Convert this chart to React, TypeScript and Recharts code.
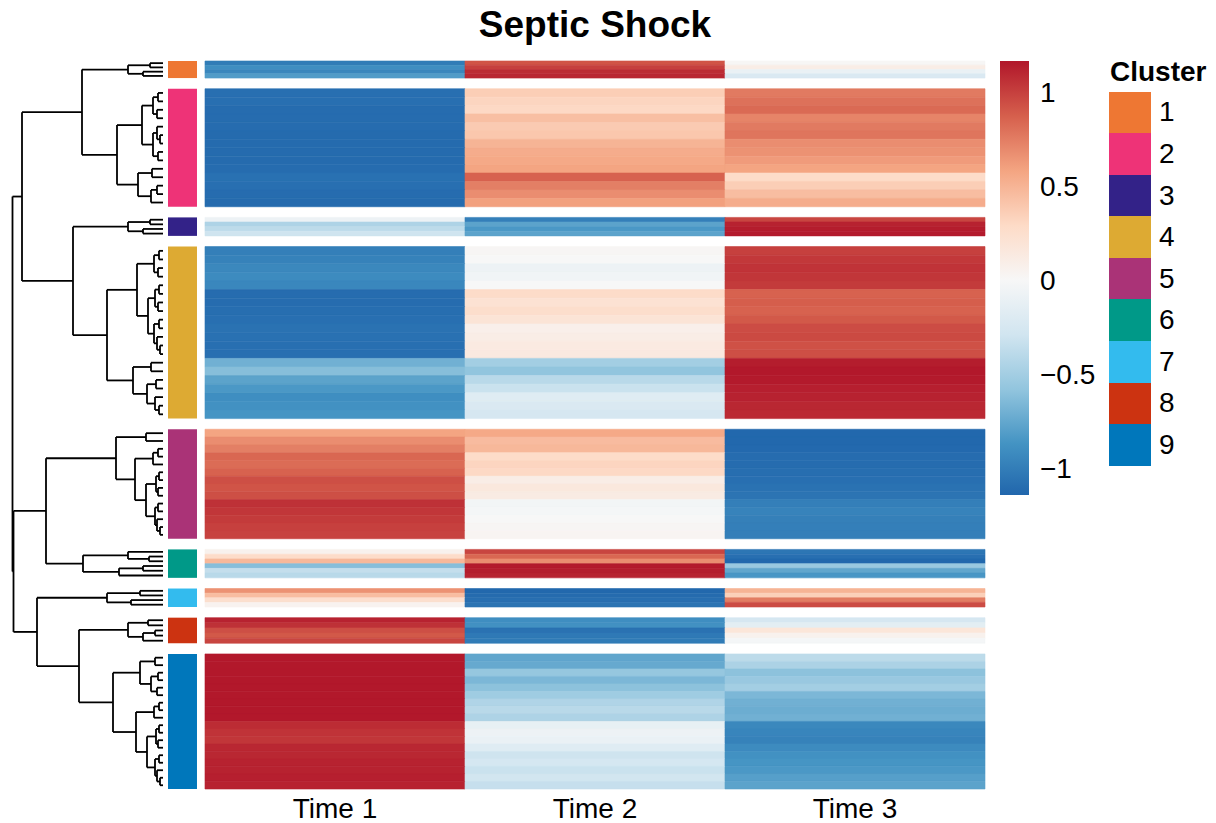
import { ComposedChart, XAxis, YAxis, Scatter, ReferenceArea, ReferenceLine } from 'recharts';

const FONT = "'Liberation Sans', Arial, Helvetica, sans-serif";

const TIMES = ['Time 1', 'Time 2', 'Time 3'];
const CLUSTER_NAMES = ['1', '2', '3', '4', '5', '6', '7', '8', '9'];
const CLUSTER_COLORS = ['#EE7733', '#EE3377', '#332288', '#DDAA33', '#AA3377', '#009988', '#33BBEE', '#CC3311', '#0077BB'];
// genes per cluster (row height of each block)
const CLUSTER_SIZES = [12, 83, 13, 121, 77, 20, 13, 18, 95];
const GAP = 7.5;

// scaled expression per band of genes: [Time 1, Time 2, Time 3]
const C1 = [[-1.02, 0.92, 0.01], [-0.9, 1.0, 0.1], [-0.95, 1.08, -0.1], [-0.82, 1.1, -0.22]];
const C2 = [
  [-1.1, 0.36, 0.76], [-1.1, 0.32, 0.8], [-1.12, 0.3, 0.83], [-1.12, 0.44, 0.72], [-1.12, 0.38, 0.76],
  [-1.13, 0.4, 0.78], [-1.13, 0.5, 0.68], [-1.13, 0.54, 0.66], [-1.13, 0.56, 0.62], [-1.12, 0.58, 0.58],
  [-1.09, 0.86, 0.28], [-1.1, 0.74, 0.36], [-1.12, 0.68, 0.45], [-1.13, 0.6, 0.54],
];
const C3 = [[-0.08, -1.0, 0.98], [-0.45, -0.78, 1.12], [-0.38, -0.84, 1.14], [-0.3, -0.78, 1.15]];
const C4 = [
  [-1.0, 0.02, 1.0], [-0.98, 0.0, 1.03], [-0.94, -0.08, 1.05], [-0.92, -0.05, 1.04], [-0.95, 0.0, 1.02],
  [-1.12, 0.28, 0.86], [-1.12, 0.22, 0.88], [-1.11, 0.26, 0.86], [-1.1, 0.2, 0.9], [-1.08, 0.08, 0.95],
  [-1.09, 0.1, 0.96], [-1.1, 0.13, 0.93], [-1.1, 0.14, 0.94], [-0.7, -0.5, 1.14], [-0.62, -0.58, 1.16],
  [-0.78, -0.4, 1.15], [-0.84, -0.32, 1.13], [-0.9, -0.18, 1.12], [-0.88, -0.22, 1.1], [-0.86, -0.25, 1.09],
];
const C5 = [
  [0.58, 0.56, -1.15], [0.68, 0.46, -1.15], [0.74, 0.48, -1.14], [0.84, 0.28, -1.12], [0.82, 0.32, -1.12],
  [0.86, 0.3, -1.11], [0.94, 0.1, -1.1], [0.92, 0.16, -1.08], [0.94, 0.12, -1.07], [1.06, -0.04, -1.0],
  [1.04, -0.02, -0.97], [1.02, 0.0, -0.99], [1.0, 0.02, -1.0], [0.99, 0.03, -1.0],
];
const C6 = [[0.06, 0.98, -1.06], [0.28, 0.84, -1.1], [0.48, 0.68, -1.15], [-0.62, 1.15, -0.55], [-0.35, 1.14, -0.76], [-0.4, 1.12, -0.85]];
const C7 = [[0.66, -1.15, 0.5], [0.45, -1.13, 0.35], [0.25, -1.1, 0.75], [0.05, -1.07, 0.95]];
const C8 = [[1.12, -0.9, -0.25], [1.06, -0.88, -0.15], [0.94, -1.08, 0.18], [0.9, -1.04, 0.06], [0.98, -1.02, -0.02]];
const C9 = [
  [1.16, -0.76, -0.38], [1.16, -0.74, -0.46], [1.16, -0.56, -0.6], [1.16, -0.66, -0.55], [1.16, -0.6, -0.5],
  [1.16, -0.52, -0.66], [1.16, -0.44, -0.7], [1.16, -0.4, -0.72], [1.16, -0.45, -0.7], [1.08, -0.12, -0.94],
  [1.05, -0.08, -0.96], [1.04, -0.1, -0.98], [1.1, -0.18, -0.92], [1.1, -0.3, -0.88], [1.12, -0.26, -0.86],
  [1.12, -0.32, -0.84], [1.13, -0.28, -0.8], [1.12, -0.34, -0.78],
];
const BANDS = [C1, C2, C3, C4, C5, C6, C7, C8, C9];

// dendrograms: leaf = band index, node = [height, left, right]
type Tree = number | [number, Tree, Tree];
const TREE_1: Tree = [35, [13, 0, 1], [20, 2, 3]];
const TREE_2: Tree = [46, [21, [10, [5, 0, 1], [6, 2, 3]], [10, [6, 4, [3, 5, 6]], [5, 7, 8]]], [25, [11, 9, 10], [12, [6, 11, 12], 13]]];
const TREE_3: Tree = [35, [13, 0, 1], [20, 2, 3]];
const TREE_4: Tree = [56, [26, [9, [4, 0, 1], [5, 2, 3]], [15, [8, [4, 4, 5], [5, 6, 7]], [9, [4, 8, 9], [6, 10, [3, 11, 12]]]]], [30, [12, 13, 14], [16, [7, 15, 16], [8, 17, [4, 18, 19]]]]];
const TREE_5: Tree = [47, [17, 0, 1], [28, [10, [5, 2, 3], 4], [17, [7, [4, 5, 6], [5, 7, 8]], [8, [5, 9, 10], [6, 11, [3, 12, 13]]]]]];
const TREE_6: Tree = [80, [35, 0, [14, 1, 2]], [44, [20, 3, 4], 5]];
const TREE_7: Tree = [56, [23, 0, 1], [32, 2, 3]];
const TREE_8: Tree = [35, [15, 0, 1], [20, [8, 2, 3], 4]];
const TREE_9: Tree = [50, [23, [8, 0, 1], [12, [5, 2, 3], [6, 4, 5]]], [27, [9, [4, 6, 7], 8], [16, [7, [4, 9, 10], [5, 11, 12]], [8, [4, 13, 14], [6, 15, [3, 16, 17]]]]]];
const CLUSTER_TREES = [TREE_1, TREE_2, TREE_3, TREE_4, TREE_5, TREE_6, TREE_7, TREE_8, TREE_9];
// leaf = cluster index
const TOP_TREE: Tree = [150.5, [141, [81, 0, 1], [90, 2, 3]], [149.5, [117, 4, 5], [126, 6, [84, 7, 8]]]];
const DEND_MAX = 151;

// RdBu colour scale
const SCALE_VALUES = [-1.16, -0.87, -0.58, -0.29, 0, 0.29, 0.58, 0.87, 1.16];
const SCALE_COLORS = ['#2166AC', '#4393C3', '#92C5DE', '#D1E5F0', '#F7F7F7', '#FDDBC7', '#F4A582', '#D6604D', '#B2182B'];
const CBAR_TICKS = [-1, -0.5, 0, 0.5, 1];
const CBAR_DOMAIN = [-1.142, 1.165];

const STARTS = CLUSTER_SIZES.map((_, i) => CLUSTER_SIZES.slice(0, i).reduce((s, n) => s + n + GAP, 0));
const TOTAL = STARTS[STARTS.length - 1] + CLUSTER_SIZES[CLUSTER_SIZES.length - 1];

const toRgb = (h: string) => [1, 3, 5].map((i) => parseInt(h.slice(i, i + 2), 16));

const colorOf = (v: number) => {
  const s = SCALE_VALUES;
  if (v <= s[0]) return SCALE_COLORS[0];
  if (v >= s[s.length - 1]) return SCALE_COLORS[s.length - 1];
  let i = 0;
  while (v > s[i + 1]) i++;
  const t = (v - s[i]) / (s[i + 1] - s[i]);
  const a = toRgb(SCALE_COLORS[i]);
  const b = toRgb(SCALE_COLORS[i + 1]);
  return `rgb(${a.map((c, k) => Math.round(c + (b[k] - c) * t)).join(',')})`;
};

const CELLS = BANDS.flatMap((rows, c) => {
  const h = CLUSTER_SIZES[c] / rows.length;
  return rows.flatMap((vals, j) =>
    vals.map((v, k) => ({
      key: `${c}-${j}-${k}`,
      x1: k,
      x2: k + 1,
      y1: STARTS[c] + j * h,
      y2: STARTS[c] + (j + 1) * h,
      fill: colorOf(v),
    }))
  );
});

// dendrogram segments [h1, y1, h2, y2]
const SEGMENTS: number[][] = [];
type Pos = { y: number; h: number };
const layout = (t: Tree, leaf: (i: number) => Pos): Pos => {
  if (typeof t === 'number') return leaf(t);
  const [h, a, b] = t;
  const l = layout(a, leaf);
  const r = layout(b, leaf);
  SEGMENTS.push([l.h, l.y, h, l.y], [r.h, r.y, h, r.y], [h, l.y, h, r.y]);
  return { y: (l.y + r.y) / 2, h };
};
layout(TOP_TREE, (c) =>
  layout(CLUSTER_TREES[c], (j) => ({
    y: STARTS[c] + ((j + 0.5) * CLUSTER_SIZES[c]) / BANDS[c].length,
    h: 0,
  }))
);

const fmtTick = (v: number) => (v < 0 ? `\u2212${Math.abs(v)}` : String(v));

const hiddenDot = () => <g />;

export default () => {
  const gradStops = SCALE_VALUES.map((v, i) => ({
    offset: Math.min(1, Math.max(0, (CBAR_DOMAIN[1] - v) / (CBAR_DOMAIN[1] - CBAR_DOMAIN[0]))),
    color: SCALE_COLORS[i],
  })).reverse();

  return (
    <div style={{ position: 'absolute', left: 0, top: 0, width: 1216, height: 823, background: '#fff', fontFamily: FONT }}>
      {/* titulo */}
      <div style={{ position: 'absolute', left: 0, top: 4, width: 1190, textAlign: 'center', fontSize: 37, lineHeight: '42px', fontWeight: 700, color: '#000' }}>
        Septic Shock
      </div>

      {/* dendrograma */}
      <div style={{ position: 'absolute', left: 0, top: 0 }}>
        <ComposedChart width={170} height={823} margin={{ top: 61, right: 7, bottom: 34, left: 12 }}>
          <XAxis type="number" dataKey="x" domain={[0, DEND_MAX]} reversed allowDataOverflow hide />
          <YAxis type="number" dataKey="y" domain={[0, TOTAL]} reversed allowDataOverflow hide />
          <Scatter data={[{ x: 0, y: 0 }, { x: DEND_MAX, y: TOTAL }]} shape={hiddenDot} isAnimationActive={false} />
          {SEGMENTS.map((s, i) => (
            <ReferenceLine
              key={`seg-${i}`}
              segment={[{ x: s[0], y: s[1] }, { x: s[2], y: s[3] }]}
              stroke="#000"
              strokeWidth={1.8}
              ifOverflow="visible"
            />
          ))}
        </ComposedChart>
      </div>

      {/* heatmap + anotacion */}
      <div style={{ position: 'absolute', left: 0, top: 0 }}>
        <ComposedChart width={1216} height={823} margin={{ top: 61, right: 231, bottom: 0, left: 168 }}>
          <XAxis
            type="number"
            dataKey="x"
            domain={[-0.1423, 3]}
            allowDataOverflow
            ticks={[0.5, 1.5, 2.5]}
            tickFormatter={(v: number) => TIMES[Math.floor(v)]}
            axisLine={false}
            tickLine={false}
            tickMargin={3}
            height={34}
            tick={{ fontSize: 28, fill: '#000', fontFamily: FONT }}
          />
          <YAxis type="number" dataKey="y" domain={[0, TOTAL]} reversed allowDataOverflow hide />
          <Scatter data={[{ x: 0, y: 0 }, { x: 3, y: TOTAL }]} shape={hiddenDot} isAnimationActive={false} />
          {CLUSTER_SIZES.map((n, c) => (
            <ReferenceArea
              key={`ann-${c}`}
              x1={-0.1423}
              x2={-0.0308}
              y1={STARTS[c]}
              y2={STARTS[c] + n}
              fill={CLUSTER_COLORS[c]}
              fillOpacity={1}
              stroke="none"
            />
          ))}
          {CELLS.map((d) => (
            <ReferenceArea
              key={d.key}
              x1={d.x1}
              x2={d.x2}
              y1={d.y1}
              y2={d.y2}
              fill={d.fill}
              fillOpacity={1}
              stroke={d.fill}
              strokeWidth={0.6}
            />
          ))}
        </ComposedChart>
      </div>

      {/* barra de color */}
      <div style={{ position: 'absolute', left: 990, top: 0 }}>
        <ComposedChart width={110} height={823} margin={{ top: 61, right: 1, bottom: 328, left: 10 }}>
          <defs>
            <linearGradient id="cbar" x1="0" y1="0" x2="0" y2="1">
              {gradStops.map((g, i) => (
                <stop key={`gs-${i}`} offset={g.offset} stopColor={g.color} />
              ))}
            </linearGradient>
          </defs>
          <XAxis type="number" dataKey="x" domain={[0, 1]} allowDataOverflow hide />
          <YAxis
            type="number"
            dataKey="y"
            orientation="right"
            domain={CBAR_DOMAIN}
            allowDataOverflow
            ticks={CBAR_TICKS}
            tickFormatter={fmtTick}
            axisLine={false}
            tickLine={false}
            tickMargin={5}
            width={70}
            tick={{ fontSize: 28, fill: '#000', fontFamily: FONT }}
          />
          <Scatter data={[{ x: 0, y: CBAR_DOMAIN[0] }, { x: 1, y: CBAR_DOMAIN[1] }]} shape={hiddenDot} isAnimationActive={false} />
          <ReferenceArea x1={0} x2={1} y1={CBAR_DOMAIN[0]} y2={CBAR_DOMAIN[1]} fill="url(#cbar)" fillOpacity={1} stroke="none" />
        </ComposedChart>
      </div>

      {/* leyenda de clusters */}
      <div style={{ position: 'absolute', left: 1110, top: 56, fontSize: 28, lineHeight: '32px', fontWeight: 700, color: '#000' }}>
        Cluster
      </div>
      <div style={{ position: 'absolute', left: 1109, top: 91.7 }}>
        {CLUSTER_NAMES.map((name, i) => (
          <div key={name} style={{ display: 'flex', alignItems: 'center', height: 41.55 }}>
            <div style={{ width: 42, height: 41.55, background: CLUSTER_COLORS[i] }} />
            <span style={{ marginLeft: 8, fontSize: 28, lineHeight: '32px', color: '#000' }}>{name}</span>
          </div>
        ))}
      </div>
    </div>
  );
};
